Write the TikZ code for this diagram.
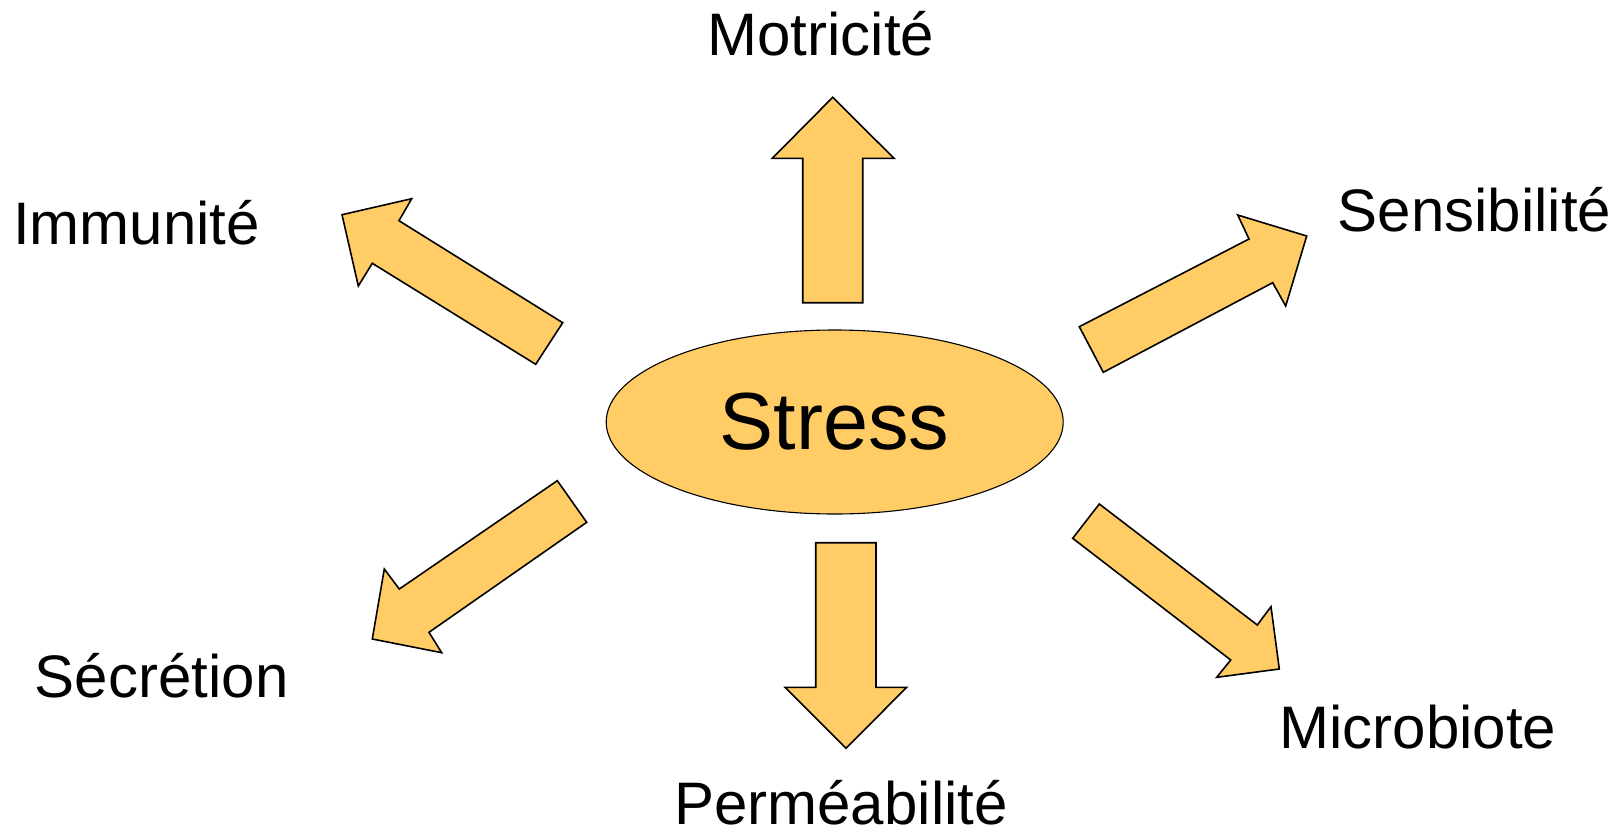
\documentclass[tikz,border=0pt]{standalone}
\usepackage{fontspec}
\setmainfont{Liberation Sans}
\usetikzlibrary{shapes.geometric}
\definecolor{fillc}{HTML}{FFCC66}
\begin{document}
\begin{tikzpicture}[x=1pt,y=-1pt,
  blockarrow/.style={fill=fillc,draw=black,line width=1.6pt,line join=miter},
  lbl/.style={anchor=base,inner sep=0pt,font=\fontsize{60}{72}\selectfont}]
\useasboundingbox (0,0) rectangle (1618,838);
% centre
\node[ellipse,draw=black,fill=fillc,line width=1.1pt,minimum width=457pt,minimum height=184pt,inner sep=0pt,font=\fontsize{81}{96}\selectfont] (stress) at (834.7,422) {Stress};
% block arrows
\filldraw[blockarrow] (802.7,302.7) -- (802.7,158.3) -- (772.3,158.3) -- (832.7,97.3) -- (894,158.3) -- (862.7,158.3) -- (862.7,302.7) -- cycle;
\filldraw[blockarrow] (535.7,364.3) -- (372.3,263.3) -- (358.3,286) -- (342,214.7) -- (411.7,198.7) -- (399,220.7) -- (562.7,322.7) -- cycle;
\filldraw[blockarrow] (1079.3,326.7) -- (1249,239) -- (1237.7,215) -- (1306.7,236) -- (1285.7,306) -- (1272.7,282.7) -- (1103.3,372.3) -- cycle;
\filldraw[blockarrow] (557.3,480.7) -- (399.3,589) -- (384.3,569) -- (372.3,639) -- (441.7,652.7) -- (429,632.3) -- (586.7,522.3) -- cycle;
\filldraw[blockarrow] (815.7,542.7) -- (815.7,687.3) -- (785,687.3) -- (846,748.3) -- (906.7,687.3) -- (876,687.3) -- (876,542.7) -- cycle;
\filldraw[blockarrow] (1099.3,504) -- (1257.3,625) -- (1271,606.7) -- (1279.3,669) -- (1216.7,677.3) -- (1230.7,660) -- (1072.7,538.3) -- cycle;
% labels
\node[lbl] (motricite) at (821,55) {Motricité};
\node[lbl] (immunite) at (136.5,244) {Immunité};
\node[lbl] (sensibilite) at (1474.5,231) {Sensibilité};
\node[lbl] (secretion) at (161.7,697) {Sécrétion};
\node[lbl] (microbiote) at (1417.8,748.5) {Microbiote};
\node[lbl] (permeabilite) at (841,824) {Perméabilité};
\end{tikzpicture}
\end{document}
